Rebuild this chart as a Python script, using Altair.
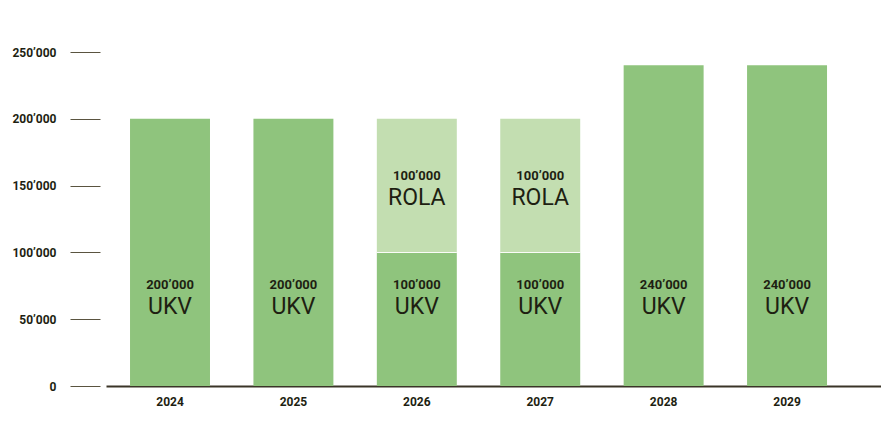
import altair as alt
import pandas as pd

years = ["2024", "2025", "2026", "2027", "2028", "2029"]
ukv = [200000, 200000, 100000, 100000, 240000, 240000]
rola = [0, 0, 100000, 100000, 0, 0]
y_ticks = [0, 50000, 100000, 150000, 200000, 250000]

C_UKV = "#8fc47d"
C_ROLA = "#c3deb1"
TXT = "#1e1f12"

def fmt(v):
    return f"{v:,}".replace(",", "\u2019")

seg_rows, lab_rows, div_rows = [], [], []
for y, u, r in zip(years, ukv, rola):
    seg_rows.append({"year": y, "seg": "UKV", "start": 0, "end": u})
    lab_rows.append({"year": y, "val": fmt(u), "name": "UKV", "anchor": 68000})
    if r > 0:
        seg_rows.append({"year": y, "seg": "ROLA", "start": u, "end": u + r})
        lab_rows.append({"year": y, "val": fmt(r), "name": "ROLA", "anchor": u + r / 2})
        div_rows.append({"year": y, "yv": u})

seg = pd.DataFrame(seg_rows)
lab = pd.DataFrame(lab_rows)
div = pd.DataFrame(div_rows)

FONT = "Roboto"

xscale = alt.Scale(domain=years, paddingInner=0.352, paddingOuter=0.316, align=0.308)
yscale = alt.Scale(domain=[0, 250000], nice=False, zero=True)

x = alt.X("year:N", scale=xscale, title=None,
          axis=alt.Axis(labelAngle=0, ticks=False, domainColor="#3a3427", domainWidth=2,
                        labelFont=FONT, labelFontWeight="bold", labelFontSize=12,
                        labelColor=TXT, labelPadding=10))

bars = alt.Chart(seg).mark_bar().encode(
    x=x,
    y=alt.Y("start:Q", scale=yscale, title=None,
            axis=alt.Axis(values=y_ticks, grid=False, domain=False, offset=6, tickSize=30,
                          tickColor="#5a5440", tickWidth=1, labelPadding=14,
                          labelFont=FONT, labelFontWeight="bold", labelFontSize=12,
                          labelColor=TXT,
                          labelExpr="replace(format(datum.value, ','), ',', '\u2019')")),
    y2="end:Q",
    color=alt.Color("seg:N", scale=alt.Scale(domain=["UKV", "ROLA"], range=[C_UKV, C_ROLA]),
                    legend=None),
)

divider = alt.Chart(div).mark_tick(orient="horizontal", size=80, thickness=1, color="white",
                                   strokeDash=[3, 2], opacity=0.9).encode(
    x=alt.X("year:N", scale=xscale), y=alt.Y("yv:Q", scale=yscale))

val_text = alt.Chart(lab).mark_text(font=FONT, fontSize=13, fontWeight="bold", color=TXT,
                                    dy=-10, baseline="middle").encode(
    x=alt.X("year:N", scale=xscale), y=alt.Y("anchor:Q", scale=yscale), text="val:N")

name_text = alt.Chart(lab).mark_text(font=FONT, fontSize=23, fontWeight="normal", color=TXT,
                                     dy=12, baseline="middle").encode(
    x=alt.X("year:N", scale=xscale), y=alt.Y("anchor:Q", scale=yscale), text="name:N")

chart = alt.layer(bars, divider, val_text, name_text).properties(
    width=775, height=334,
    autosize=alt.AutoSizeParams(type="none"),
    padding={"left": 98, "top": 44, "right": 0, "bottom": 26},
).configure_view(stroke=None)

chart.save("out.html", embed_options={"renderer": "svg", "actions": False})
